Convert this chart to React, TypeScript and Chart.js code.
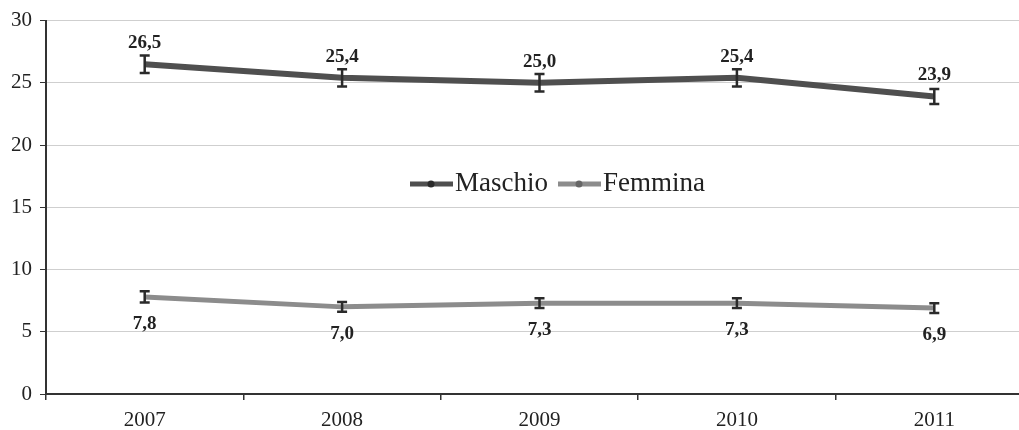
import React, { useEffect, useRef } from "react";
import { Chart, registerables } from "chart.js";

Chart.register(...registerables);

const years = ["2007", "2008", "2009", "2010", "2011"];
const maschio = [26.5, 25.4, 25.0, 25.4, 23.9];
const femmina = [7.8, 7.0, 7.3, 7.3, 6.9];
const maschioErr = [0.7, 0.7, 0.7, 0.7, 0.6];
const femminaErr = [0.45, 0.4, 0.4, 0.4, 0.4];
const yTicks = [0, 5, 10, 15, 20, 25, 30];

const SERIF = "'Liberation Serif', 'DejaVu Serif', serif";
const fmt = (v: number) => v.toFixed(1).replace(".", ",");

const extrasPlugin = {
  id: "extras",
  afterDatasetsDraw(chart: any) {
    const ctx = chart.ctx;
    const y = chart.scales.y;
    const errs = [maschioErr, femminaErr];
    ctx.save();
    chart.data.datasets.forEach((ds: any, di: number) => {
      const meta = chart.getDatasetMeta(di);
      meta.data.forEach((pt: any, i: number) => {
        const v = ds.data[i];
        const e = errs[di][i];
        const top = y.getPixelForValue(v + e);
        const bot = y.getPixelForValue(v - e);
        ctx.strokeStyle = "#2a2a2a";
        ctx.lineWidth = 2.5;
        ctx.beginPath();
        ctx.moveTo(pt.x, top);
        ctx.lineTo(pt.x, bot);
        ctx.moveTo(pt.x - 5, top);
        ctx.lineTo(pt.x + 5, top);
        ctx.moveTo(pt.x - 5, bot);
        ctx.lineTo(pt.x + 5, bot);
        ctx.stroke();
        ctx.fillStyle = "#222";
        ctx.font = `bold 19px ${SERIF}`;
        ctx.textAlign = "center";
        ctx.textBaseline = "middle";
        const ly = di === 0 ? pt.y - 21 : pt.y + 27;
        ctx.fillText(fmt(v), pt.x, ly);
      });
    });
    // legend
    const items = [
      { label: "Maschio", color: "#4f4f4f", dot: "#2a2a2a", x: 410 },
      { label: "Femmina", color: "#8c8c8c", dot: "#666", x: 558 },
    ];
    const ly = 184;
    items.forEach((it) => {
      ctx.strokeStyle = it.color;
      ctx.lineWidth = 5;
      ctx.beginPath();
      ctx.moveTo(it.x, ly);
      ctx.lineTo(it.x + 43, ly);
      ctx.stroke();
      ctx.fillStyle = it.dot;
      ctx.beginPath();
      ctx.arc(it.x + 21, ly, 3.5, 0, Math.PI * 2);
      ctx.fill();
      ctx.fillStyle = "#222";
      ctx.font = `27px ${SERIF}`;
      ctx.textAlign = "left";
      ctx.textBaseline = "middle";
      ctx.fillText(it.label, it.x + 45, ly);
    });
    ctx.restore();
  },
};

export default function App() {
  const ref = useRef<HTMLCanvasElement>(null);
  useEffect(() => {
    document.body.style.overflow = "hidden";
    const chart = new Chart(ref.current!, {
      type: "line",
      data: {
        labels: years,
        datasets: [
          {
            label: "Maschio",
            data: maschio,
            borderColor: "#4f4f4f",
            backgroundColor: "#2a2a2a",
            borderWidth: 6,
            pointRadius: 0,
            tension: 0,
          },
          {
            label: "Femmina",
            data: femmina,
            borderColor: "#8c8c8c",
            backgroundColor: "#666666",
            borderWidth: 5,
            pointRadius: 0,
            tension: 0,
          },
        ],
      },
      options: {
        animation: false,
        responsive: false,
        layout: { padding: { top: 20, right: 0, left: 0, bottom: 0 } },
        plugins: { legend: { display: false }, tooltip: { enabled: false } },
        scales: {
          x: {
            offset: true,
            grid: {
              offset: true,
              drawOnChartArea: false,
              drawTicks: true,
              tickLength: 6,
              color: "#333",
              lineWidth: 1.5,
            },
            border: { color: "#333", width: 2 },
            ticks: {
              color: "#222",
              font: { family: SERIF, size: 21 },
              padding: 8,
            },
            afterFit: (s: any) => {
              s.height = 36;
            },
          },
          y: {
            min: 0,
            max: 30,
            afterBuildTicks: (s: any) => {
              s.ticks = yTicks.map((v) => ({ value: v }));
            },
            grid: {
              color: "#cfcfcf",
              lineWidth: 1,
              drawTicks: true,
              tickLength: 6,
              tickColor: "#333",
            },
            border: { color: "#333", width: 2 },
            ticks: {
              color: "#222",
              font: { family: SERIF, size: 21 },
              padding: 8,
            },
            afterFit: (s: any) => {
              s.width = 46;
            },
          },
        },
      },
      plugins: [extrasPlugin],
    });
    return () => chart.destroy();
  }, []);
  return (
    <canvas
      ref={ref}
      width={1033}
      height={430}
      style={{ position: "absolute", left: 0, top: 0, width: 1033, height: 430 }}
    />
  );
}
